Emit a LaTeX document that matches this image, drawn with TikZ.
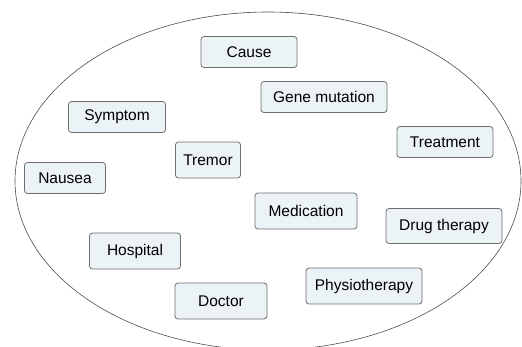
\documentclass[tikz,border=0pt]{standalone}
\usepackage{fontspec}
\setmainfont{Liberation Sans}
\definecolor{boxfill}{HTML}{EBF3F6}
\definecolor{boxline}{HTML}{6E6E6E}
\begin{document}
\begin{tikzpicture}[x=1pt,y=-1pt,
    term/.style={draw=boxline,fill=boxfill,rounded corners=3pt,line width=0.8pt,
      font=\fontsize{15.5}{18}\selectfont,inner sep=0pt,minimum height=31pt}]
      \useasboundingbox (0,0) rectangle (522,346);
      \draw[line width=0.6pt,black!70] (268,181) ellipse [x radius=253, y radius=-169];

      \node[term,minimum width=96pt] (cause) at (249,52) {Cause};
      \node[term,minimum width=126pt] (gene) at (324,97) {Gene mutation};
      \node[term,minimum width=96pt] (treatment) at (445,142) {Treatment};
      \node[term,minimum width=97pt] (symptom) at (117,117) {Symptom};
      \node[term,minimum width=65pt,minimum height=36pt] (tremor) at (208,160) {Tremor};
      \node[term,minimum width=81pt] (nausea) at (65,178) {Nausea};
      \node[term,minimum width=102pt,minimum height=36pt] (medication) at (306,211) {Medication};
      \node[term,minimum width=116pt,minimum height=35pt] (drug) at (444,226) {Drug therapy};
      \node[term,minimum width=116pt,minimum height=36pt] (physio) at (364,286) {Physiotherapy};
      \node[term,minimum width=91pt,minimum height=36pt] (hospital) at (135,251) {Hospital};
      \node[term,minimum width=92pt,minimum height=36pt] (doctor) at (221,301) {Doctor};
    \end{tikzpicture}
\end{document}
